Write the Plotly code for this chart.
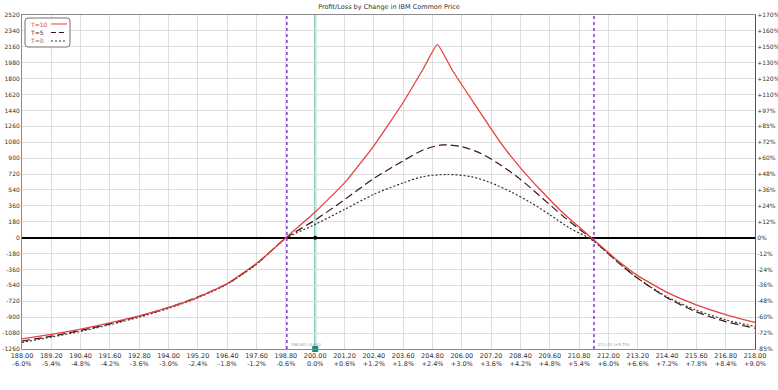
import plotly.graph_objects as go

# ---- data ----
price_t10 = [188.0, 189.2, 190.4, 191.6, 192.8, 194.0, 195.2, 196.4, 197.6, 198.2, 198.8, 200.0,
             201.2, 202.4, 203.6, 204.4, 205.0, 205.6, 206.6, 207.6, 208.4, 209.2, 210.2, 211.3,
             212.4, 213.2, 214.4, 215.6, 216.8, 218.0]
pl_t10 = [-1145, -1095, -1035, -965, -885, -790, -675, -520, -290, -150, 0, 290,
          620, 1040, 1530, 1900, 2185, 1900, 1480, 1070, 790, 545, 265, 0,
          -265, -430, -620, -760, -870, -960]

price_t5 = [188.0, 189.2, 190.4, 191.6, 192.8, 194.0, 195.2, 196.4, 197.6, 198.8, 200.0, 201.2,
            202.4, 203.6, 204.4, 205.2, 206.0, 206.8, 207.6, 208.4, 209.2, 210.2, 211.3, 212.4,
            213.2, 214.4, 215.6, 216.8, 218.0]
pl_t5 = [-1170, -1115, -1050, -975, -890, -790, -670, -520, -295, -5, 200, 430,
         670, 870, 990, 1050, 1030, 950, 820, 660, 470, 230, -10, -280,
         -460, -680, -840, -950, -1025]

price_t0 = [188.0, 189.2, 190.4, 191.6, 192.8, 194.0, 195.2, 196.4, 197.6, 198.8, 200.0, 201.2,
            202.4, 203.6, 204.4, 205.4, 206.4, 207.2, 208.0, 208.8, 209.6, 210.4, 211.3, 212.4,
            213.2, 214.4, 215.6, 216.8, 218.0]
pl_t0 = [-1185, -1125, -1060, -985, -900, -800, -680, -525, -300, -10, 150, 320,
         490, 620, 690, 715, 690, 620, 520, 400, 260, 110, -20, -280,
         -460, -670, -820, -930, -1005]

breakevens = [198.84, 211.41]
breakeven_labels = ["198.84 (-0.6%)", "211.41 (+5.7%)"]
current_price = 200.0
current_pl = 0

x_ticks = [188.0, 189.2, 190.4, 191.6, 192.8, 194.0, 195.2, 196.4, 197.6, 198.8, 200.0, 201.2, 202.4,
           203.6, 204.8, 206.0, 207.2, 208.4, 209.6, 210.8, 212.0, 213.2, 214.4, 215.6, 216.8, 218.0]
x_price_labels = ["188.00", "189.20", "190.40", "191.60", "192.80", "194.00", "195.20", "196.40",
                  "197.60", "198.80", "200.00", "201.20", "202.40", "203.60", "204.80", "206.00",
                  "207.20", "208.40", "209.60", "210.80", "212.00", "213.20", "214.40", "215.60",
                  "216.80", "218.00"]
x_pct_labels = ["-6.0%", "-5.4%", "-4.8%", "-4.2%", "-3.6%", "-3.0%", "-2.4%", "-1.8%", "-1.2%",
                "-0.6%", "0.0%", "+0.6%", "+1.2%", "+1.8%", "+2.4%", "+3.0%", "+3.6%", "+4.2%",
                "+4.8%", "+5.4%", "+6.0%", "+6.6%", "+7.2%", "+7.8%", "+8.4%", "+9.0%"]
y_ticks = [-1260, -1080, -900, -720, -540, -360, -180, 0, 180, 360, 540, 720, 900, 1080,
           1260, 1440, 1620, 1800, 1980, 2160, 2340, 2520]
y_pct_labels = ["-85%", "-72%", "-60%", "-48%", "-36%", "-24%", "-12%", "0%", "+12%", "+24%",
                "+36%", "+48%", "+60%", "+72%", "+85%", "+97%", "+110%", "+120%", "+130%",
                "+150%", "+160%", "+170%"]

series_names = ["T=10", "T=5", "T=0"]
series_colors = ["#e4433f", "#3c1414", "#333333"]

FONT = "DejaVu Sans"
Y_MIN, Y_MAX = y_ticks[0], y_ticks[-1]

fig = go.Figure()

fig.add_trace(go.Scatter(x=price_t0, y=pl_t0, mode="lines", name="T=0",
                         line=dict(color=series_colors[2], width=1.2, dash="2px,2px",
                                   shape="spline", smoothing=0.8)))
fig.add_trace(go.Scatter(x=price_t5, y=pl_t5, mode="lines", name="T=5",
                         line=dict(color=series_colors[1], width=1.2, dash="8px,4px",
                                   shape="spline", smoothing=0.8)))
fig.add_trace(go.Scatter(x=price_t10, y=pl_t10, mode="lines", name="T=10",
                         line=dict(color=series_colors[0], width=1.3,
                                   shape="spline", smoothing=0.4)))

# current price marker on the zero line
fig.add_trace(go.Scatter(x=[current_price], y=[current_pl], mode="markers", yaxis="y2",
                         marker=dict(color="black", size=4), showlegend=False))
# teal square at bottom of current price line
fig.add_trace(go.Scatter(x=[current_price], y=[Y_MIN], mode="markers", cliponaxis=False,
                         marker=dict(color="#168c7c", size=6, symbol="square"), showlegend=False))

shapes = []
# break-even lines
for be in breakevens:
    shapes.append(dict(type="line", xref="x", yref="paper", x0=be, x1=be, y0=0, y1=1,
                       line=dict(color="#7a3cc8", width=1.5, dash="dot"), layer="above"))
# current price line
shapes.append(dict(type="line", xref="x", yref="paper", x0=current_price, x1=current_price,
                   y0=0, y1=1, line=dict(color="#7cc4b6", width=2.2), layer="below"))

# manual legend (symbols to the right of the text, as in the reference)
def px_x(p):
    return (p - 22) / 733.0

def px_y(p):
    return (349 - p) / 334.0

lx0, lx1, ly0, ly1 = px_x(25), px_x(70), px_y(47), px_y(18)
rx, ry = 3 / 733.0, 3 / 334.0
path = (f"M {lx0+rx},{ly0} L {lx1-rx},{ly0} Q {lx1},{ly0} {lx1},{ly0+ry} "
        f"L {lx1},{ly1-ry} Q {lx1},{ly1} {lx1-rx},{ly1} L {lx0+rx},{ly1} "
        f"Q {lx0},{ly1} {lx0},{ly1-ry} L {lx0},{ly0+ry} Q {lx0},{ly0} {lx0+rx},{ly0} Z")
shapes.append(dict(type="path", xref="paper", yref="paper", path=path,
                   line=dict(color="#707070", width=1), fillcolor="white", layer="above"))

annotations = []
leg_rows = [24, 32.5, 41]
leg_dash = ["solid", "5px,3px", "2px,2px"]
leg_text_colors = ["#e4433f", "#6a2a2a", "#777777"]
for name, row, dsh, col, tcol in zip(series_names, leg_rows, leg_dash, series_colors, leg_text_colors):
    annotations.append(dict(xref="paper", yref="paper", x=px_x(28), y=px_y(row), text=name,
                            showarrow=False, xanchor="left", yanchor="middle",
                            font=dict(family=FONT, size=6, color=tcol)))
    shapes.append(dict(type="line", xref="paper", yref="paper", x0=px_x(51), x1=px_x(67),
                       y0=px_y(row), y1=px_y(row), line=dict(color=col, width=1, dash=dsh),
                       layer="above"))

# small break-even labels
for be, lab in zip(breakevens, breakeven_labels):
    annotations.append(dict(xref="x", yref="paper", x=be, y=px_y(344), text=lab,
                            showarrow=False, xanchor="left", yanchor="middle", xshift=2,
                            font=dict(family=FONT, size=4, color="#9a9a9a")))

fig.update_layout(
    width=778, height=390,
    margin=dict(l=22, r=23, t=15, b=41, autoexpand=False),
    paper_bgcolor="white", plot_bgcolor="white",
    showlegend=False,
    title=dict(text="Profit/Loss by Change in IBM Common Price", x=0.5, xanchor="center",
               y=1 - 6.5 / 390, yanchor="middle",
               font=dict(family=FONT, size=6.5, color="#333333")),
    shapes=shapes, annotations=annotations,
    xaxis=dict(range=[188, 218], tickvals=x_ticks, automargin=False,
               ticktext=[f"{a}<br>{b}" for a, b in zip(x_price_labels, x_pct_labels)],
               showgrid=True, gridcolor="#dedede", gridwidth=1,
               showline=True, linecolor="#8a8a8a", linewidth=1, mirror=True,
               ticks="", zeroline=False,
               tickfont=dict(family=FONT, size=6.5, color="#333333")),
    yaxis=dict(range=[Y_MIN, Y_MAX], tickvals=y_ticks, ticktext=[str(v) for v in y_ticks],
               automargin=False,
               showgrid=True, gridcolor="#dedede", gridwidth=1,
               showline=True, linecolor="#8a8a8a", linewidth=1, mirror=True,
               ticks="", zeroline=True, zerolinecolor="black", zerolinewidth=2,
               tickfont=dict(family=FONT, size=6, color="#333333")),
    yaxis2=dict(range=[Y_MIN, Y_MAX], tickvals=y_ticks, ticktext=y_pct_labels,
                automargin=False,
                overlaying="y", side="right", showgrid=False, zeroline=False,
                showline=True, linecolor="#555555", linewidth=1, ticks="",
                tickfont=dict(family=FONT, size=6, color="#333333")),
)

fig.write_html("out.html", config={"displayModeBar": False, "staticPlot": True},
               post_script="document.body.style.margin='0px';document.body.style.overflow='hidden';")
